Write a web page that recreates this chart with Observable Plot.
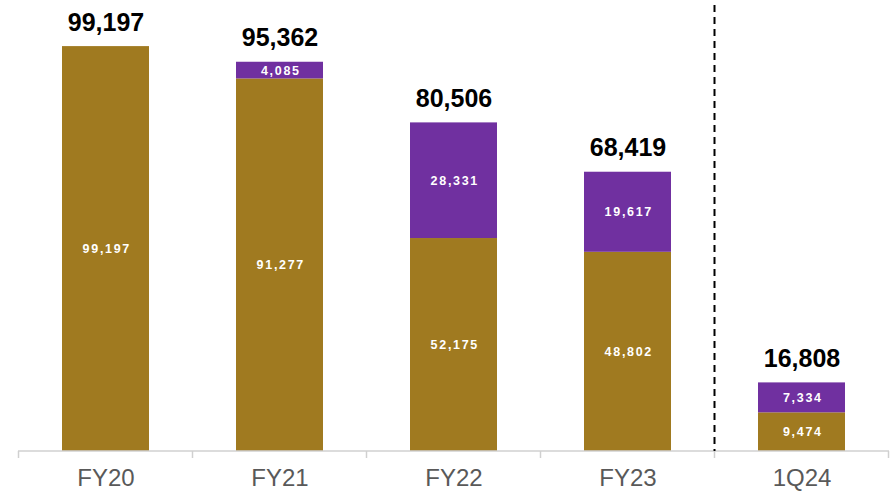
<!DOCTYPE html>
<html><head><meta charset="utf-8">
<script src="https://cdn.jsdelivr.net/npm/d3@7"></script>
<script src="https://cdn.jsdelivr.net/npm/@observablehq/plot@0.6"></script>
<style>
body{margin:0;background:#fff;font-family:"Liberation Sans",Arial,sans-serif;}
</style></head><body><div id="chart"></div>
<script>
const categories = ["FY20","FY21","FY22","FY23","1Q24"];
const goldValues = [99197, 91277, 52175, 48802, 9474];
const purpleValues = [0, 4085, 28331, 19617, 7334];
const totals = [99197, 95362, 80506, 68419, 16808];
const dividerBefore = "1Q24";

const GOLD = "#A07A20", PURPLE = "#7030A0";
const rows = [];
categories.forEach((c,i)=>{
  rows.push({cat:c, series:"gold", value:goldValues[i], y1:0, y2:goldValues[i]});
  if (purpleValues[i] > 0) rows.push({cat:c, series:"purple", value:purpleValues[i], y1:goldValues[i], y2:goldValues[i]+purpleValues[i]});
});
const totalRows = categories.map((c,i)=>({cat:c, total:totals[i]}));
const fmt = d3.format(",");

function boundaryMark(index, scales, values, dims) {
  const x = scales.x, y = scales.y;
  const step = x.step(), pad = step*0.25;
  const g = d3.create("svg:g");
  const base = y(0);
  const right = dims.width - dims.marginRight;
  g.append("line").attr("x1", dims.marginLeft).attr("x2", right).attr("y1", base).attr("y2", base)
    .attr("stroke","#d0d0d0").attr("stroke-width",1.5);
  const bounds = categories.map(c => x(c) - pad).concat([x(categories[categories.length-1]) - pad + step]);
  bounds.forEach(b => g.append("line").attr("x1", b).attr("x2", b).attr("y1", base).attr("y2", base+7)
    .attr("stroke","#d0d0d0").attr("stroke-width",1.5));
  const dx = x(dividerBefore) - pad;
  g.append("line").attr("x1", dx).attr("x2", dx).attr("y1", 5).attr("y2", base)
    .attr("stroke","#000").attr("stroke-width",2).attr("stroke-dasharray","7,5");
  return g.node();
}

const plot = Plot.plot({
  width: 892, height: 491,
  marginTop: 2, marginBottom: 40, marginLeft: 18, marginRight: 3,
  style: {fontFamily: '"Liberation Sans", Arial, sans-serif', background: "#fff"},
  x: {domain: categories, paddingInner: 0.5, paddingOuter: 0.25, label: null},
  y: {domain: [0, 110000], axis: null},
  marks: [
    Plot.rectY(rows, {x: "cat", y1: "y1", y2: "y2", fill: d => d.series === "gold" ? GOLD : PURPLE}),
    boundaryMark,
    Plot.axisX({tickSize: 0, tickPadding: 17, fontSize: 24, fill: "#595959", label: null}),
    Plot.text(rows, {x: "cat", y: d => (d.y1 + d.y2)/2, text: d => fmt(d.value), fill: "#fff",
      fontWeight: "bold", fontSize: 12.5, dx: 0.8}),
    Plot.text(totalRows, {x: "cat", y: "total", text: d => fmt(d.total), fill: "#000",
      fontWeight: "bold", fontSize: 25, lineAnchor: "bottom", dy: -16})
  ]
});
const sel = d3.select(plot);
const textGroups = sel.selectAll('g[aria-label="text"]').nodes();
if (textGroups[0]) d3.select(textGroups[0]).style("letter-spacing", "1.7px");
document.getElementById("chart").appendChild(plot);
</script></body></html>
